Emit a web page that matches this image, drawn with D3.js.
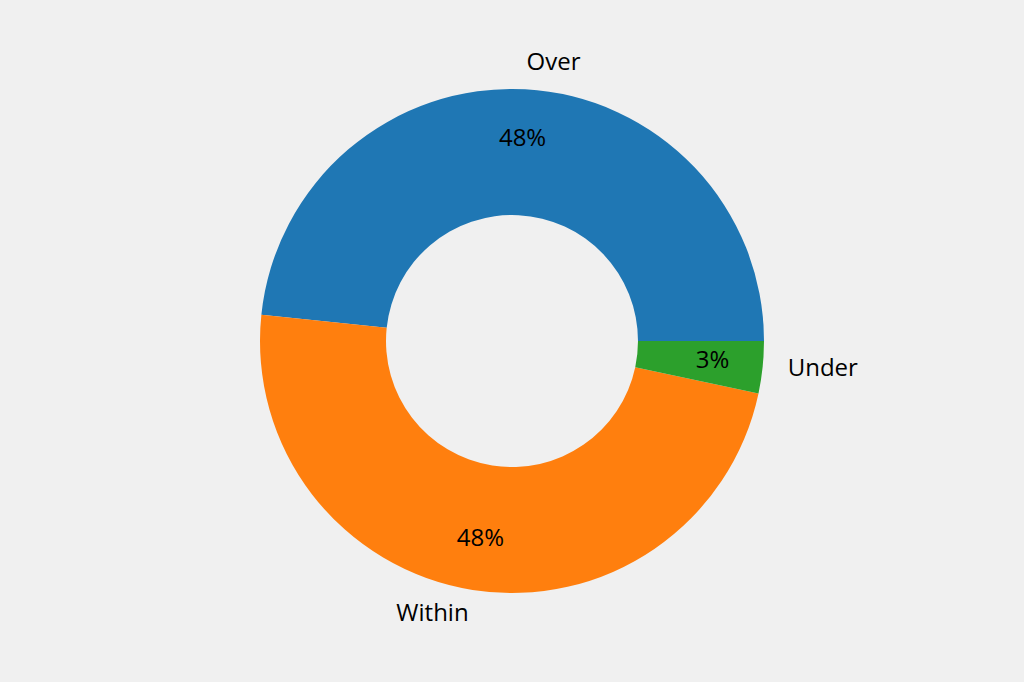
<!DOCTYPE html>
<html lang="en">
<head>
    <meta charset="utf-8">
    <title>donut</title>
    <script type="text/javascript" src="https://d3js.org/d3.v7.min.js"></script>
    <style type="text/css">
        body { margin: 0; background: #f0f0f0; }
        text { font-family: "Open Sans", sans-serif; fill: #000; }
    </style>
</head>
<body>
<script type="text/javascript">

    // slice data, counterclockwise from 3 o'clock like the original
    var categories = ["Over", "Within", "Under"];
    var counts = [29, 29, 2];
    var colours = ["#1f77b4", "#ff7f0e", "#2ca02c"];

    var width = 1024, height = 682;
    var cx = 512, cy = 341;
    var outer = 252, inner = 126;
    var fontSize = 24;

    var svg = d3.select("body")
        .append("svg")
        .attr("width", width)
        .attr("height", height);

    svg.append("rect")
        .attr("width", width)
        .attr("height", height)
        .attr("fill", "#f0f0f0");

    var g = svg.append("g")
        .attr("transform", "translate(" + cx + "," + cy + ")");

    // d3 angles go clockwise from 12 o'clock; start at 90deg and go negative
    var pie = d3.pie()
        .sort(null)
        .value(d => d)
        .startAngle(Math.PI / 2)
        .endAngle(Math.PI / 2 - 2 * Math.PI);

    var arcs = pie(counts);
    var total = d3.sum(counts);

    var arc = d3.arc()
        .innerRadius(inner)
        .outerRadius(outer);

    g.selectAll("path")
        .data(arcs)
        .enter()
        .append("path")
        .attr("d", arc)
        .attr("fill", (d, i) => colours[i]);

    function mid(d) {
        return (d.startAngle + d.endAngle) / 2;
    }

    // percent labels at 0.8 of radius
    g.selectAll("text.pct")
        .data(arcs)
        .enter()
        .append("text")
        .attr("class", "pct")
        .attr("x", d => Math.sin(mid(d)) * outer * 0.8)
        .attr("y", d => -Math.cos(mid(d)) * outer * 0.8)
        .attr("dy", "-0.15em")
        .attr("text-anchor", "middle")
        .attr("dominant-baseline", "central")
        .attr("font-size", fontSize)
        .text(d => Math.round(d.value / total * 100) + "%");

    // category labels at 1.1 of radius
    g.selectAll("text.lab")
        .data(arcs)
        .enter()
        .append("text")
        .attr("class", "lab")
        .attr("x", d => Math.sin(mid(d)) * outer * 1.1)
        .attr("y", d => -Math.cos(mid(d)) * outer * 1.1)
        .attr("dy", "-0.15em")
        .attr("text-anchor", d => Math.sin(mid(d)) > 0 ? "start" : "end")
        .attr("dominant-baseline", "central")
        .attr("font-size", fontSize)
        .text((d, i) => categories[i]);

</script>
</body>
</html>
